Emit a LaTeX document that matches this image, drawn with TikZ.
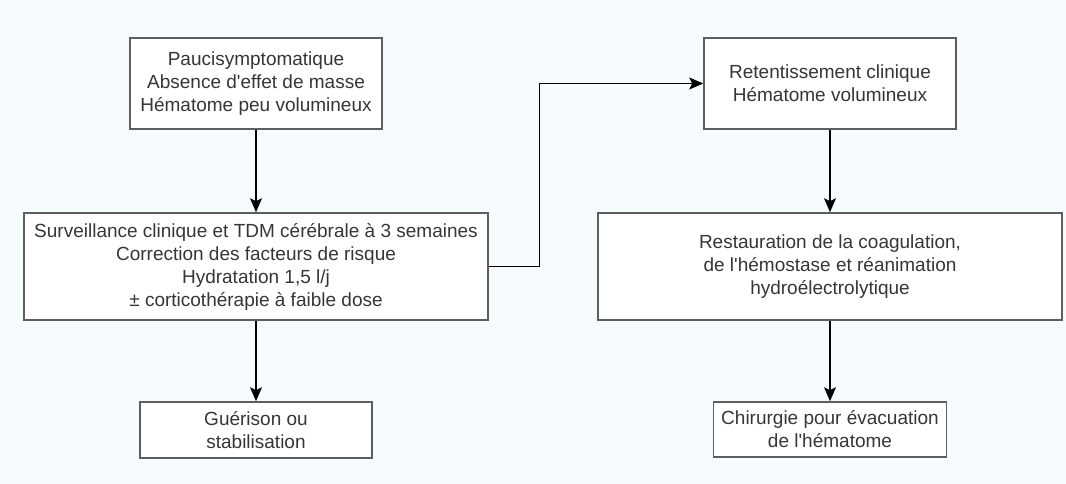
\documentclass[tikz,border=0pt]{standalone}
\usepackage{fontspec}
\setmainfont{Liberation Sans}
\usetikzlibrary{arrows.meta}
\definecolor{bg}{HTML}{F6FBFE}
\definecolor{boxline}{HTML}{5E5E5E}
\definecolor{txt}{HTML}{363636}
\newcommand{\ap}{\textquotesingle}
\begin{document}
\begin{tikzpicture}[x=1pt,y=-1pt,
  box/.style={draw=boxline, line width=1.6pt, fill=white, align=center, text=txt,
    font=\fontsize{19}{23}\selectfont, inner sep=0pt},
  arr/.style={-{Stealth[length=14pt,width=12pt,inset=3pt]}, line width=1.2pt, black}]
\fill[bg] (0,0) rectangle (1066,484);
\useasboundingbox (0,0) rectangle (1066,484);
\node[box, minimum width=252pt, minimum height=91pt] (a) at (256,83.5)
  {Paucisymptomatique\\Absence d\ap effet de masse\\Hématome peu volumineux};
\node[box, minimum width=464pt, minimum height=107pt] (b) at (256,266.5)
  {Surveillance clinique et TDM cérébrale à 3 semaines\\Correction des facteurs de risque\\Hydratation 1,5 l/j\\± corticothérapie à faible dose};
\node[box, minimum width=232pt, minimum height=56pt] (c) at (256,430)
  {Guérison ou\\stabilisation};
\node[box, minimum width=252pt, minimum height=91pt] (d) at (830,83.5)
  {Retentissement clinique\\Hématome volumineux};
\node[box, minimum width=464pt, minimum height=107pt] (e) at (830,266.5)
  {Restauration de la coagulation,\\de l\ap hémostase et réanimation\\hydroélectrolytique};
\node[box, minimum width=233pt, minimum height=55pt] (f) at (830,429.5)
  {Chirurgie pour évacuation\\de l\ap hématome};
\draw[arr] (a.south) -- (b.north);
\draw[arr] (b.south) -- (c.north);
\draw[arr] (d.south) -- (e.north);
\draw[arr] (e.south) -- (f.north);
\draw[arr] (b.east) -- ++(51,0) |- (d.west);
\end{tikzpicture}
\end{document}
